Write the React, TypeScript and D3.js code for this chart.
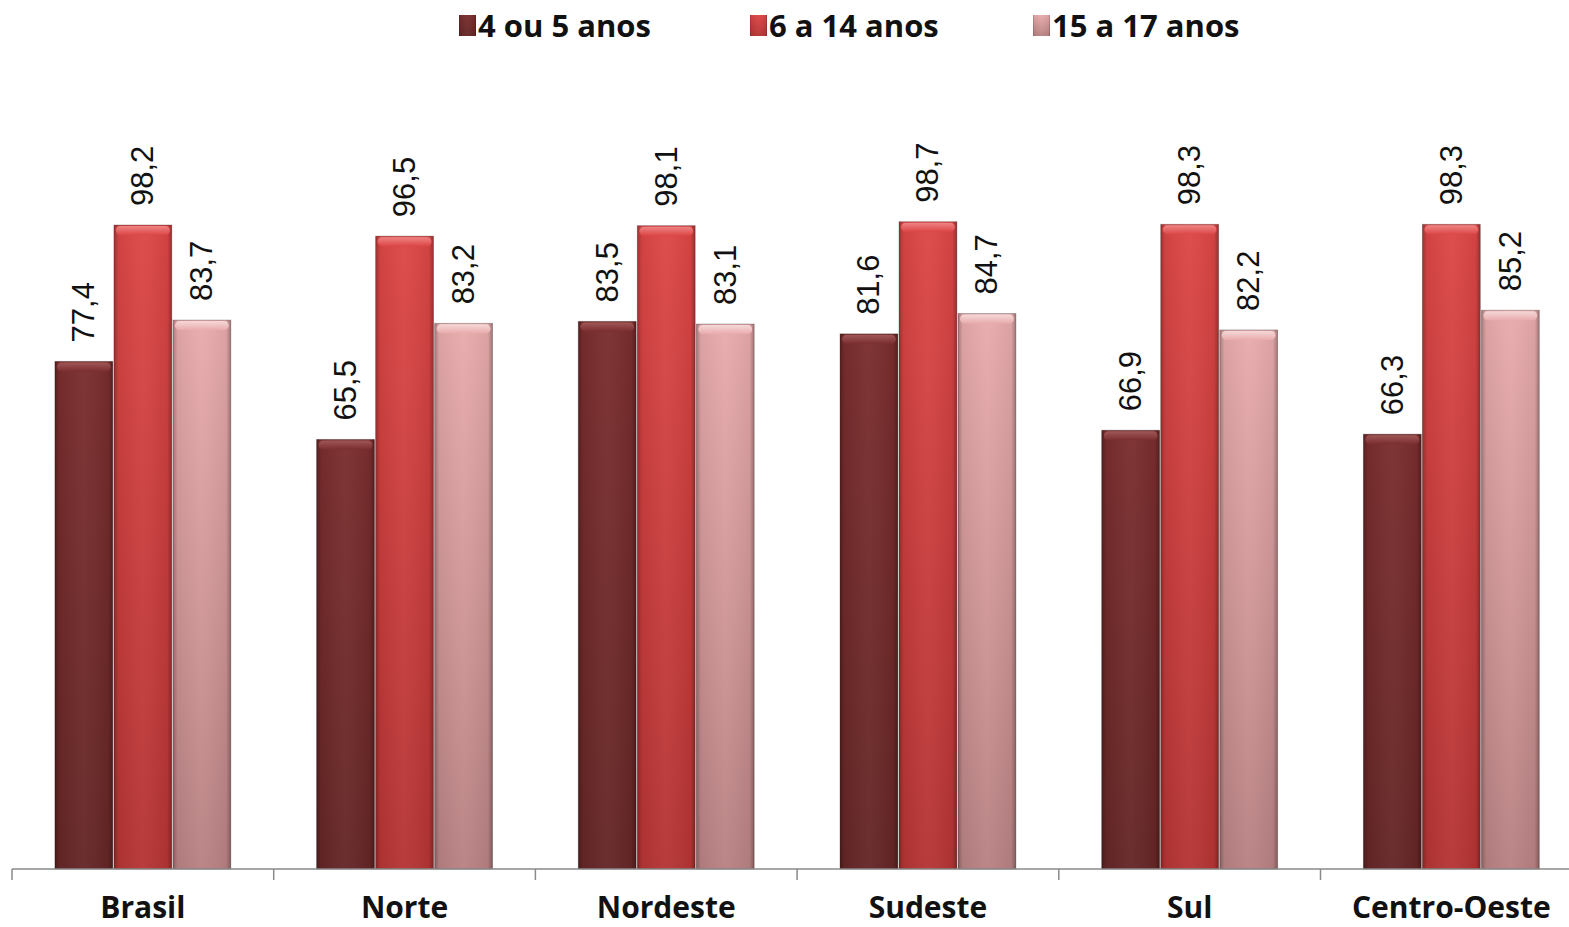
import * as d3 from "d3";

const regions = ["Brasil", "Norte", "Nordeste", "Sudeste", "Sul", "Centro-Oeste"];
const seriesNames = ["4 ou 5 anos", "6 a 14 anos", "15 a 17 anos"];
const age4to5 = [77.4, 65.5, 83.5, 81.6, 66.9, 66.3];
const age6to14 = [98.2, 96.5, 98.1, 98.7, 98.3, 98.3];
const age15to17 = [83.7, 83.2, 83.1, 84.7, 82.2, 85.2];

const seriesValues = [age4to5, age6to14, age15to17];
// top / bottom tones for each series
const colors = [
    { top: "#7a2d2e", bottom: "#652626", cap: "#a05757" },
    { top: "#dc4646", bottom: "#b53434", cap: "#ef8484" },
    { top: "#e8abac", bottom: "#b88182", cap: "#f6d8d8" },
];

const width = 1569;
const height = 927;
const baseline = 869;
const axisLeft = 12;
const step = 261.7;

export default function App() {
    const x0 = d3
        .scaleBand<string>()
        .domain(regions)
        .range([axisLeft, axisLeft + step * regions.length])
        .paddingInner(0.328)
        .paddingOuter(0.164);
    const x1 = d3
        .scaleBand<number>()
        .domain([0, 1, 2])
        .range([0, x0.bandwidth()])
        .paddingInner(0.02);
    const y = d3.scaleLinear([0, 100], [baseline, baseline - 655.8]);
    const fmt = (v: number) => d3.format(".1f")(v).replace(".", ",");

    const legendX = [459, 750, 1033];

    return (
        <div style={{ position: "absolute", left: 0, top: 0 }}>
            <svg width={width} height={height} style={{ display: "block", background: "#fff" }}>
                <defs>
                    {colors.map((c, i) => (
                        <linearGradient key={i} id={`v${i}`} x1="0" y1="0" x2="0" y2="1">
                            <stop offset="0" stopColor={c.top} />
                            <stop offset="1" stopColor={c.bottom} />
                        </linearGradient>
                    ))}
                    {colors.map((c, i) => (
                        <linearGradient key={i} id={`cap${i}`} x1="0" y1="0" x2="0" y2="1">
                            <stop offset="0" stopColor={c.cap} />
                            <stop offset="1" stopColor={c.top} />
                        </linearGradient>
                    ))}
                    <linearGradient id="edge" x1="0" y1="0" x2="1" y2="0">
                        <stop offset="0" stopColor="#000" stopOpacity="0.28" />
                        <stop offset="0.08" stopColor="#000" stopOpacity="0.05" />
                        <stop offset="0.5" stopColor="#fff" stopOpacity="0.04" />
                        <stop offset="0.92" stopColor="#000" stopOpacity="0.05" />
                        <stop offset="1" stopColor="#000" stopOpacity="0.3" />
                    </linearGradient>
                </defs>

                {/* legend */}
                <g fontFamily="'Open Sans', sans-serif" fontWeight="bold" fontSize="31">
                    {seriesNames.map((name, i) => (
                        <g key={name} transform={`translate(${legendX[i]},0)`}>
                            <rect x={0} y={15} width={17} height={21} fill={`url(#v${i})`} />
                            <rect x={0} y={15} width={17} height={21} fill="url(#edge)" />
                            <text x={19} y={25} dominantBaseline="central" fill="#111">
                                {name}
                            </text>
                        </g>
                    ))}
                </g>

                {/* bars */}
                {regions.map((r, ri) => (
                    <g key={r} transform={`translate(${x0(r)},0)`}>
                        {seriesValues.map((vals, si) => {
                            const v = vals[ri];
                            const bx = x1(si) ?? 0;
                            const bw = x1.bandwidth();
                            const top = y(v);
                            const h = baseline - top;
                            return (
                                <g key={si}>
                                    <rect x={bx} y={top} width={bw} height={h} fill={`url(#v${si})`} />
                                    <rect x={bx} y={top} width={bw} height={h} fill="url(#edge)" />
                                    <rect
                                        x={bx + 2}
                                        y={top + 1}
                                        width={bw - 4}
                                        height={9}
                                        rx={4.5}
                                        fill={`url(#cap${si})`}
                                    />
                                    <rect
                                        x={bx}
                                        y={top}
                                        width={bw}
                                        height={h}
                                        fill="none"
                                        stroke="#000"
                                        strokeOpacity={0.25}
                                        strokeWidth={1}
                                    />
                                    <text
                                        transform={`translate(${bx + bw / 2},${top - 19}) rotate(-90)`}
                                        dominantBaseline="central"
                                        textAnchor="start"
                                        fontFamily="'Liberation Sans', Arial, sans-serif"
                                        fontSize="31"
                                        fill="#111"
                                    >
                                        {fmt(v)}
                                    </text>
                                </g>
                            );
                        })}
                    </g>
                ))}

                {/* category axis */}
                <line x1={axisLeft} x2={width} y1={baseline} y2={baseline} stroke="#8a8a8a" strokeWidth={1.5} />
                {regions.map((r, i) => (
                    <line
                        key={r}
                        x1={axisLeft + step * i}
                        x2={axisLeft + step * i}
                        y1={baseline}
                        y2={baseline + 11}
                        stroke="#8a8a8a"
                        strokeWidth={1.5}
                    />
                ))}
                <g fontFamily="'Open Sans', sans-serif" fontWeight="bold" fontSize="30" fill="#111">
                    {regions.map((r) => (
                        <text key={r} x={(x0(r) ?? 0) + x0.bandwidth() / 2} y={918} textAnchor="middle">
                            {r}
                        </text>
                    ))}
                </g>
            </svg>
        </div>
    );
}
